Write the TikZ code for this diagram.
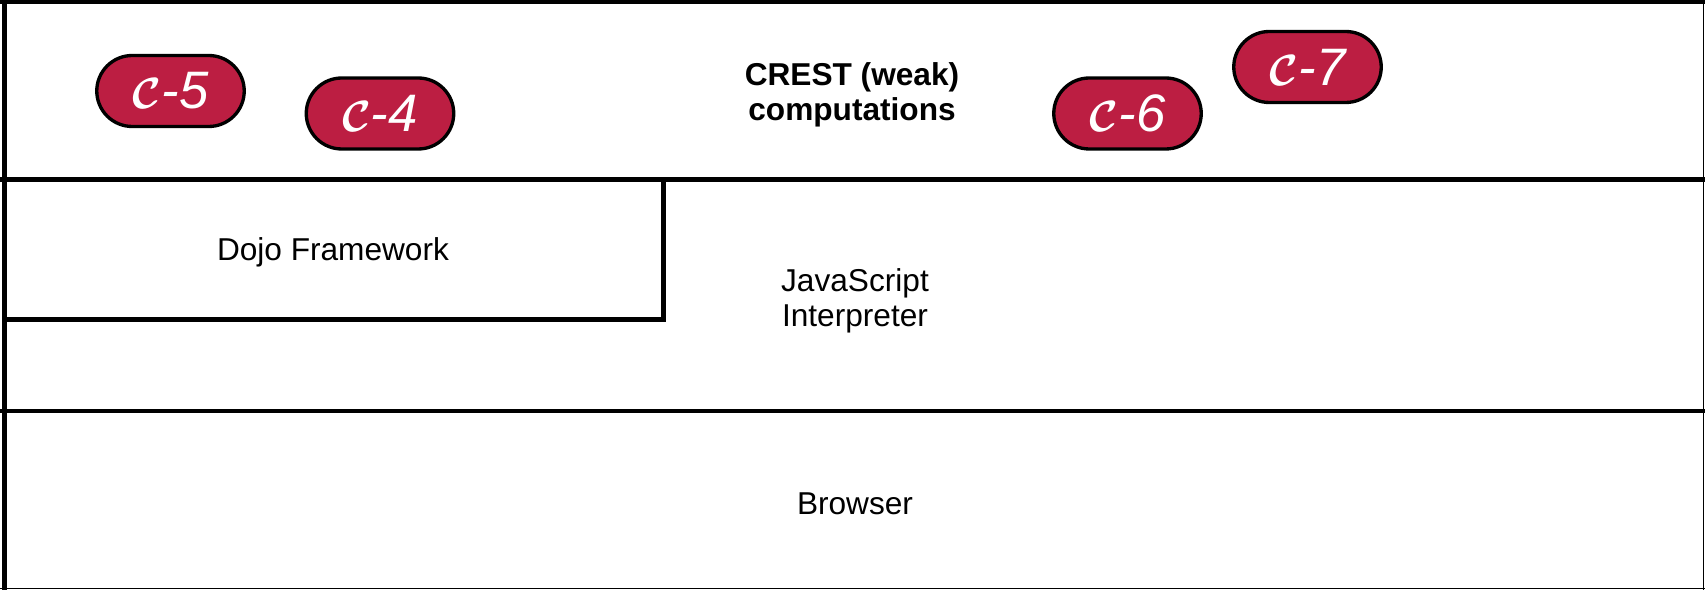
\documentclass[tikz,border=0pt]{standalone}
\usepackage{amsmath}
\usepackage{fontspec}
\setmainfont{Liberation Sans}
\usetikzlibrary{shapes.misc}
\definecolor{crestred}{RGB}{188,30,66}

\begin{document}
\begin{tikzpicture}[x=0.02cm,y=-0.02cm,
  layer line/.style={draw,line width=2.55pt},
  frame line/.style={draw,line width=0.8pt},
  comp node/.style={rounded rectangle,draw,line width=1.9pt,fill=crestred,
    minimum width=2.95cm,minimum height=1.42cm,inner sep=0pt,
    text=white,font=\fontsize{30}{30}\selectfont\itshape},
  label node/.style={align=center,font=\fontsize{18}{20}\selectfont}]

  \useasboundingbox (0,0) rectangle (1705,590);

  % layers
  \draw[layer line] (0,2.2) -- (1705,2.2);
  \draw[layer line] (4.3,0) -- (4.3,590);
  \draw[frame line] (1703.5,0) -- (1703.5,590);
  \draw[frame line] (0,588.6) -- (1705,588.6);
  \draw[layer line] (0,179.5) -- (1705,179.5);
  \draw[layer line] (0,411) -- (1705,411);
  \draw[layer line] (4,319.5) -- (663.5,319.5) -- (663.5,178);

  \node[label node,font=\fontsize{18}{20}\selectfont\bfseries] (crest) at (852,95) {CREST (weak)\\computations};
  \node[label node] (dojo) at (333,252) {Dojo Framework};
  \node[label node] (js) at (855,301) {JavaScript\\Interpreter};
  \node[label node] (browser) at (855,504) {Browser};

  % computations
  \node[comp node] (c5) at (170.5,91) {$\boldsymbol{\mathcal{C}}$-5};
  \node[comp node] (c4) at (380,113.5) {$\boldsymbol{\mathcal{C}}$-4};
  \node[comp node] (c6) at (1127.5,113.5) {$\boldsymbol{\mathcal{C}}$-6};
  \node[comp node] (c7) at (1307.5,67) {$\boldsymbol{\mathcal{C}}$-7};
\end{tikzpicture}
\end{document}
